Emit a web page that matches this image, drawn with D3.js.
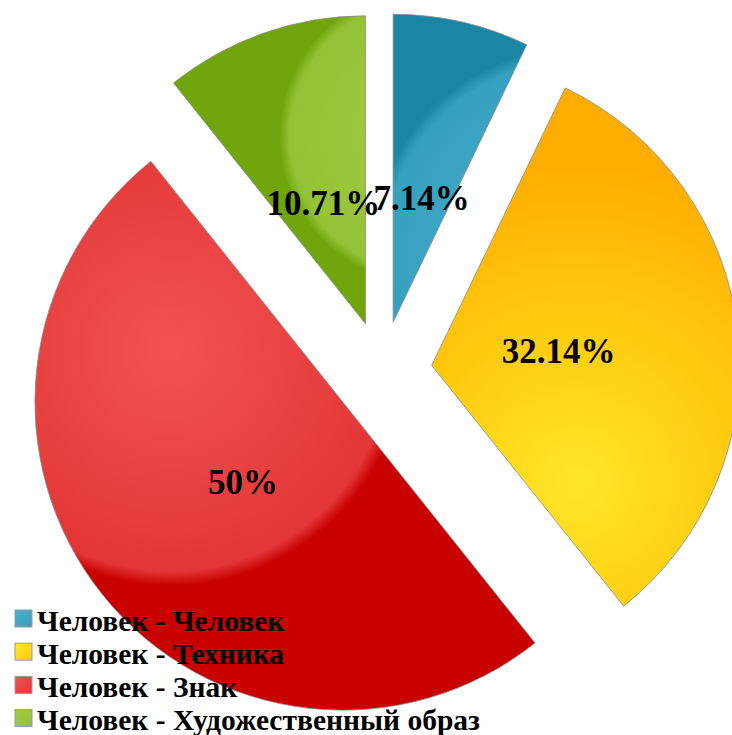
<!DOCTYPE html>
<html>
<head>
<meta charset="utf-8">
<script src="https://cdn.jsdelivr.net/npm/d3@7"></script>
<style>
  html, body { margin: 0; padding: 0; background: #fff; }
  svg { display: block; }
</style>
</head>
<body>
<div id="chart"></div>
<script>
// data
var categories = ['Человек - Человек', 'Человек - Техника', 'Человек - Знак', 'Человек - Художественный образ'];
var values = [7.14, 32.14, 50, 10.71];

// per slice look: colours and where the highlight sits (offset from apex, in radii)
var sliceStyles = [
	{light: '#4cb1cd', mid: '#36a0bf', dark: '#1a86a5', cx: 0.60, cy: -0.22, r: 0.70, stops: [0, 0.90, 0.96]},
	{light: '#ffe62a', mid: '#ffca0e', dark: '#ffad00', cx: 0.47, cy: 0.38, r: 1.05, stops: [0, 0.50, 1.0]},
	{light: '#f25353', mid: '#e33636', dark: '#c80000', cx: -0.56, cy: -0.17, r: 0.79, stops: [0, 0.91, 0.97]},
	{light: '#a2cc44', mid: '#94c236', dark: '#70a60c', cx: 0.20, cy: -0.61, r: 0.50, stops: [0, 0.89, 0.96]}
];

var width = 732, height = 735;
var center = [382, 371];
var radius = 308;
var explode = 50;
var serif = '"Liberation Serif", "Times New Roman", serif';

var svg = d3.select('#chart')
	.append('svg')
	.attr('width', width)
	.attr('height', height);

var defs = svg.append('defs');

var pie = d3.pie().sort(null).value(function(d) { return d; });
var arcs = pie(values);

var arc = d3.arc().innerRadius(0).outerRadius(radius);
var labelArc = d3.arc().innerRadius(radius * 0.415).outerRadius(radius * 0.415);

function midAngle(d) {
	return (d.startAngle + d.endAngle) / 2;
}

// gradients for the glossy look
sliceStyles.forEach(function(s, i) {
	var g = defs.append('radialGradient')
		.attr('id', 'grad' + i)
		.attr('gradientUnits', 'userSpaceOnUse')
		.attr('cx', s.cx * radius)
		.attr('cy', s.cy * radius)
		.attr('r', s.r * radius);
	g.append('stop').attr('offset', s.stops[0]).attr('stop-color', s.light);
	g.append('stop').attr('offset', s.stops[1]).attr('stop-color', s.mid);
	g.append('stop').attr('offset', s.stops[2]).attr('stop-color', s.dark);

	var lg = defs.append('linearGradient')
		.attr('id', 'legGrad' + i)
		.attr('x1', 0).attr('y1', 0).attr('x2', 1).attr('y2', 1);
	lg.append('stop').attr('offset', 0).attr('stop-color', s.light);
	lg.append('stop').attr('offset', 1).attr('stop-color', s.mid);
});

var mainLayer = svg.append('g')
	.attr('transform', 'translate(' + center[0] + ',' + center[1] + ')');

var slices = mainLayer.selectAll('g.slice')
	.data(arcs)
	.enter()
	.append('g')
	.attr('class', 'slice')
	.attr('transform', function(d) {
		var a = midAngle(d);
		return 'translate(' + (Math.sin(a) * explode) + ',' + (-Math.cos(a) * explode) + ')';
	});

slices.append('path')
	.attr('d', arc)
	.attr('fill', function(d, i) { return 'url(#grad' + i + ')'; })
	.attr('stroke', '#8c8c8c')
	.attr('stroke-width', 0.8);

slices.append('text')
	.attr('transform', function(d) { return 'translate(' + labelArc.centroid(d) + ')'; })
	.attr('text-anchor', 'middle')
	.attr('dy', '0.35em')
	.style('font-family', serif)
	.style('font-weight', 'bold')
	.style('font-size', '35px')
	.attr('fill', '#000')
	.text(function(d) { return d3.format('~')(d.value) + '%'; });

// legend
var legend = svg.append('g')
	.attr('class', 'legend')
	.attr('transform', 'translate(15,610)');

var rows = legend.selectAll('g.row')
	.data(categories)
	.enter()
	.append('g')
	.attr('class', 'row')
	.attr('transform', function(d, i) { return 'translate(0,' + (i * 33.2) + ')'; });

rows.append('rect')
	.attr('width', 17)
	.attr('height', 17)
	.attr('fill', function(d, i) { return 'url(#legGrad' + i + ')'; })
	.attr('stroke', '#9a9a9a')
	.attr('stroke-width', 1);

rows.append('text')
	.attr('x', 22)
	.attr('y', 20.5)
	.style('font-family', serif)
	.style('font-weight', 'bold')
	.style('font-size', '29.5px')
	.attr('fill', '#000')
	.text(function(d) { return d; });
</script>
</body>
</html>
